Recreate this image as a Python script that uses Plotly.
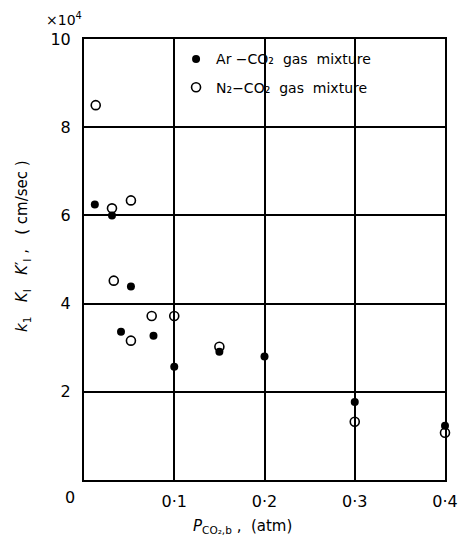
import plotly.graph_objects as go

# Partial pressure of CO2 in bulk (atm) and coefficients (x10^4 cm/sec)
ar_p = [0.012, 0.031, 0.052, 0.041, 0.077, 0.100, 0.150, 0.200, 0.300, 0.400]
ar_k = [6.25, 6.00, 4.39, 3.36, 3.27, 2.57, 2.91, 2.80, 1.77, 1.23]

n2_p = [0.013, 0.031, 0.052, 0.033, 0.075, 0.100, 0.052, 0.150, 0.300, 0.400]
n2_k = [8.50, 6.16, 6.34, 4.52, 3.72, 3.72, 3.16, 3.02, 1.32, 1.07]

x_ticks = [0.1, 0.2, 0.3, 0.4]
x_labels = ["0·1", "0·2", "0·3", "0·4"]
y_ticks = [2, 4, 6, 8, 10]
y_labels = ["2", "4", "6", "8", "10"]

FONT = "DejaVu Sans"

fig = go.Figure()
fig.add_trace(go.Scatter(
    x=ar_p, y=ar_k, mode="markers", name="Ar −CO₂  gas  mixture",
    legendgroup="ar",
    marker=dict(symbol="circle", size=8, color="black"),
    cliponaxis=False,
))
fig.add_trace(go.Scatter(
    x=n2_p, y=n2_k, mode="markers", name="N₂−CO₂  gas  mixture",
    legendgroup="n2",
    marker=dict(symbol="circle-open", size=9, color="black", line=dict(width=1.6)),
    cliponaxis=False,
))

fig.update_layout(
    width=470, height=535,
    margin=dict(l=84, r=16, t=39, b=55),
    paper_bgcolor="white", plot_bgcolor="white",
    font=dict(family=FONT, color="black"),
    showlegend=True,
    legend=dict(
        x=0.255, y=0.99, xanchor="left", yanchor="top",
        bgcolor="rgba(0,0,0,0)", font=dict(size=14, family=FONT),
        tracegroupgap=7, itemwidth=30,
    ),
    xaxis=dict(
        range=[0, 0.4], tickvals=x_ticks, ticktext=x_labels,
        showgrid=True, gridcolor="black", gridwidth=1.6,
        showline=True, linecolor="black", linewidth=2, mirror=True,
        ticks="", zeroline=False, tickfont=dict(size=16),
        ticklabelstandoff=6,
    ),
    yaxis=dict(
        range=[0, 10], tickvals=y_ticks, ticktext=y_labels,
        showgrid=True, gridcolor="black", gridwidth=1.6,
        showline=True, linecolor="black", linewidth=2, mirror=True,
        ticks="", zeroline=False, tickfont=dict(size=16),
        ticklabelstandoff=8,
    ),
)

# Origin label, scale factor and axis titles
fig.add_annotation(text="0", xref="paper", yref="paper", x=-0.04, y=-0.04,
                   xanchor="center", yanchor="middle", showarrow=False,
                   font=dict(size=16))
fig.add_annotation(text="×10<sup>4</sup>", xref="paper", yref="paper",
                   x=-0.11, y=1.02, xanchor="left", yanchor="bottom",
                   showarrow=False, font=dict(size=14))
fig.add_annotation(
    text="<i>k</i><sub>1</sub>   <i>K</i><sub>I</sub>   <i>K</i>′<sub>I</sub> ,   ( cm/sec )",
    xref="paper", yref="paper", x=-0.17, y=0.53, xanchor="center", yanchor="middle",
    textangle=-90, showarrow=False, font=dict(size=15),
)
fig.add_annotation(
    text="<i>P</i><sub>CO₂,b</sub> ,  (atm)",
    xref="paper", yref="paper", x=0.44, y=-0.08, xanchor="center", yanchor="top",
    showarrow=False, font=dict(size=15),
)

fig.write_html("out.html")
